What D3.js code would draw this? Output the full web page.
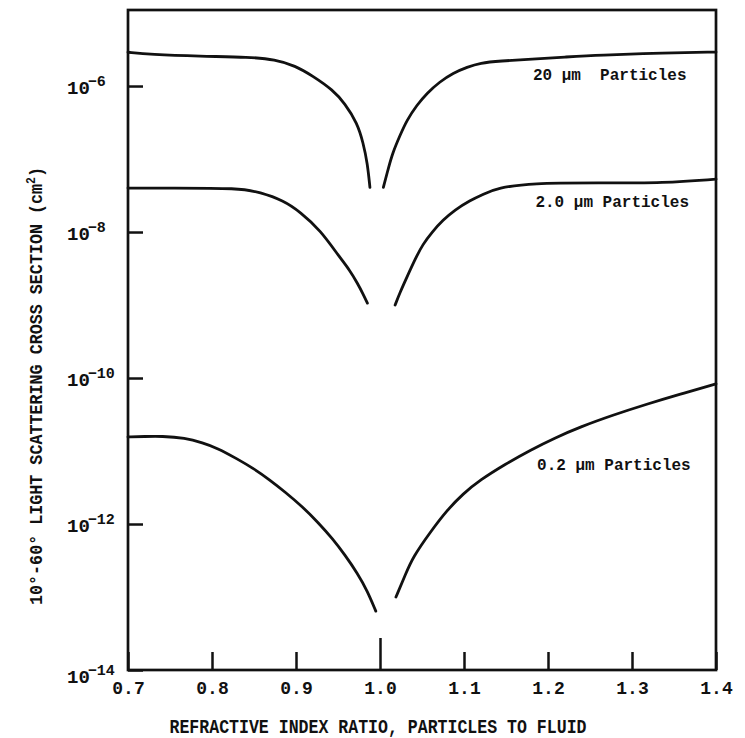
<!DOCTYPE html>
<html>
<head>
<meta charset="utf-8">
<script src="https://cdn.jsdelivr.net/npm/d3@7"></script>
<style>
  html, body { margin: 0; padding: 0; background: #fff; }
  svg { display: block; }
  text { font-family: "Liberation Mono", "DejaVu Sans Mono", monospace; font-weight: bold; fill: #111; }
</style>
</head>
<body>
<svg id="chart" width="745" height="738"></svg>
<script>
// Refractive index ratio (particle / fluid); null marks the gap at the index match
const ratio20 = [0.700, 0.726, 0.786, 0.845, 0.875, 0.899, 0.920, 0.944, 0.958, 0.973, 0.980, 0.985, 0.988,
                 0.996,
                 1.004, 1.010, 1.015, 1.024, 1.032, 1.044, 1.056, 1.071, 1.087, 1.104, 1.119, 1.143, 1.181, 1.220, 1.260, 1.339, 1.400];
const cross20 = [2.9e-6, 2.7e-6, 2.55e-6, 2.5e-6, 2.3e-6, 1.9e-6, 1.37e-6, 8.8e-7, 5.8e-7, 3.1e-7, 1.66e-7, 8.8e-8, 4.1e-8,
                 null,
                 4.1e-8, 7.5e-8, 1.21e-7, 2.13e-7, 3.4e-7, 5.5e-7, 8.0e-7, 1.14e-6, 1.51e-6, 1.82e-6, 2.07e-6, 2.2e-6, 2.34e-6, 2.49e-6, 2.66e-6, 2.83e-6, 2.92e-6];

const ratio2 = [0.700, 0.750, 0.833, 0.857, 0.885, 0.905, 0.929, 0.952, 0.964, 0.973, 0.980, 0.985,
                1.000,
                1.018, 1.024, 1.032, 1.042, 1.051, 1.062, 1.075, 1.089, 1.107, 1.123, 1.140, 1.180, 1.260, 1.339, 1.400];
const cross2 = [4.0e-8, 4.0e-8, 4.0e-8, 3.5e-8, 2.7e-8, 1.88e-8, 1.06e-8, 4.5e-9, 3.0e-9, 2.0e-9, 1.41e-9, 1.06e-9,
                null,
                1.0e-9, 1.5e-9, 2.4e-9, 4.3e-9, 6.8e-9, 1.0e-8, 1.46e-8, 2.0e-8, 2.7e-8, 3.3e-8, 4.0e-8, 4.7e-8, 4.7e-8, 4.7e-8, 5.3e-8];

const ratio02 = [0.700, 0.720, 0.740, 0.768, 0.789, 0.806, 0.830, 0.849, 0.869, 0.887, 0.908, 0.926, 0.944, 0.958, 0.973, 0.985, 0.995,
                 1.007,
                 1.019, 1.030, 1.039, 1.060, 1.080, 1.099, 1.119, 1.149, 1.179, 1.208, 1.238, 1.277, 1.318, 1.357, 1.400];
const cross02 = [1.56e-11, 1.58e-11, 1.6e-11, 1.51e-11, 1.29e-11, 1.10e-11, 7.8e-12, 5.8e-12, 4.0e-12, 2.74e-12, 1.71e-12, 1.06e-12, 6.2e-13, 3.8e-13, 2.13e-13, 1.21e-13, 6.4e-14,
                 null,
                 1.0e-13, 2.0e-13, 3.5e-13, 7.8e-13, 1.56e-12, 2.6e-12, 4.0e-12, 6.6e-12, 1.03e-11, 1.51e-11, 2.13e-11, 3.1e-11, 4.4e-11, 6.0e-11, 8.3e-11];

const seriesLabels = ["20 µm  Particles", "2.0 µm Particles", "0.2 µm Particles"];
const xTickValues = [0.7, 0.8, 0.9, 1.0, 1.1, 1.2, 1.3, 1.4];
const yTickExponents = [-6, -8, -10, -12, -14];
const xTitle = "REFRACTIVE INDEX RATIO, PARTICLES TO FLUID";
const yTitle = "10°-60° LIGHT SCATTERING CROSS SECTION (cm";

// ---- layout ----
const svg = d3.select("#chart");
const plot = { left: 128, right: 716, top: 10, bottom: 670 };
const ink = "#111";

const x = d3.scaleLinear().domain([0.7, 1.4]).range([plot.left, plot.right]);
const y = d3.scaleLog().domain([1e-14, 1.1e-5]).range([plot.bottom, plot.top]);

// frame
svg.append("rect")
  .attr("x", plot.left).attr("y", plot.top)
  .attr("width", plot.right - plot.left).attr("height", plot.bottom - plot.top)
  .attr("fill", "none").attr("stroke", ink).attr("stroke-width", 2.7);

// bottom axis: inward ticks, the 1.0 tick drawn longer
const xAxis = svg.append("g")
  .attr("transform", `translate(0,${plot.bottom})`)
  .call(d3.axisBottom(x).tickValues(xTickValues).tickSize(-18).tickSizeOuter(0)
        .tickFormat(d3.format(".1f")));
xAxis.select(".domain").remove();
xAxis.selectAll(".tick line").attr("stroke", ink).attr("stroke-width", 2.5)
  .attr("y2", d => Math.abs(d - 1.0) < 1e-9 ? -32 : -18);
xAxis.selectAll(".tick text")
  .attr("y", 24).attr("dy", 0)
  .attr("font-size", 18)
  .attr("font-family", "Liberation Mono, DejaVu Sans Mono, monospace")
  .attr("font-weight", "bold")
  .attr("fill", ink);

// left axis: inward ticks, labels written as powers of ten
const yAxis = svg.append("g")
  .attr("transform", `translate(${plot.left},0)`)
  .call(d3.axisLeft(y).tickValues(yTickExponents.map(e => Math.pow(10, e)))
        .tickSize(-15).tickSizeOuter(0).tickFormat(""));
yAxis.select(".domain").remove();
yAxis.selectAll(".tick line").attr("stroke", ink).attr("stroke-width", 2.5);

yTickExponents.forEach((e, i) => {
  const yy = y(Math.pow(10, e)) + (i === yTickExponents.length - 1 ? 13 : 8);
  const t = svg.append("text").attr("x", 67).attr("y", yy).attr("font-size", 19);
  t.append("tspan").text("10");
  t.append("tspan").attr("dx", -2).attr("dy", -8).attr("font-size", 15).text("−" + Math.abs(e));
});

// curves
const line = d3.line()
  .defined(d => d.v != null)
  .x(d => x(d.r))
  .y(d => y(d.v))
  .curve(d3.curveBasis);

const series = [
  { r: ratio20, v: cross20 },
  { r: ratio2,  v: cross2 },
  { r: ratio02, v: cross02 }
];
series.forEach(s => {
  const pts = s.r.map((r, i) => ({ r, v: s.v[i] }));
  svg.append("path")
    .datum(pts)
    .attr("d", line)
    .attr("fill", "none")
    .attr("stroke", ink)
    .attr("stroke-width", 2.8)
    .attr("stroke-linecap", "round")
    .attr("stroke-linejoin", "round");
});

// curve labels
const labelAnchors = [
  { r: 1.182, v: 1.2e-6 },
  { r: 1.185, v: 2.2e-8 },
  { r: 1.187, v: 5.5e-12 }
];
seriesLabels.forEach((txt, i) => {
  svg.append("text")
    .attr("x", x(labelAnchors[i].r))
    .attr("y", y(labelAnchors[i].v))
    .attr("font-size", 16)
    .style("white-space", "pre")
    .text(txt);
});

// axis titles
svg.append("text")
  .attr("x", 378).attr("y", 733)
  .attr("text-anchor", "middle")
  .attr("font-size", 20)
  .attr("textLength", 417)
  .attr("lengthAdjust", "spacingAndGlyphs")
  .text(xTitle);

const yt = svg.append("text")
  .attr("transform", "translate(42,386) rotate(-90)")
  .attr("text-anchor", "middle")
  .attr("font-size", 19)
  .attr("textLength", 438)
  .attr("lengthAdjust", "spacingAndGlyphs");
yt.append("tspan").text(yTitle);
yt.append("tspan").attr("dy", -7).attr("font-size", 13).text("2");
yt.append("tspan").attr("dy", 7).text(")");
</script>
</body>
</html>
